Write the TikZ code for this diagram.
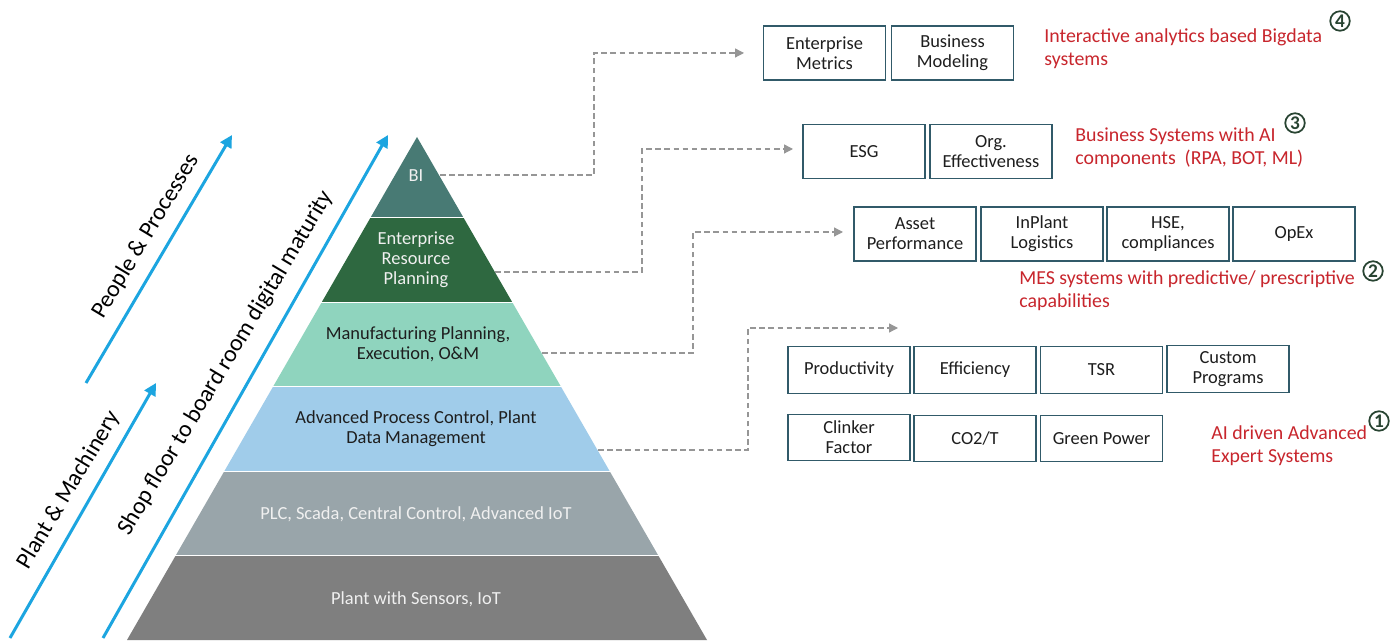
\documentclass[tikz,border=0pt]{standalone}
\usepackage{fontspec}
\setmainfont{Carlito}
\usetikzlibrary{arrows.meta}
\definecolor{cBI}{RGB}{72,122,116}
\definecolor{cERP}{RGB}{46,104,64}
\definecolor{cMES}{RGB}{143,212,190}
\definecolor{cAPC}{RGB}{160,204,234}
\definecolor{cPLC}{RGB}{153,165,170}
\definecolor{cPlant}{RGB}{127,127,127}
\definecolor{cBlue}{RGB}{28,165,224}
\definecolor{cBox}{RGB}{49,90,105}
\definecolor{cRed}{RGB}{200,38,45}
\definecolor{cConn}{RGB}{150,150,150}
\definecolor{cNum}{RGB}{40,68,50}
\definecolor{cTxt}{RGB}{30,30,30}
\definecolor{cLight}{RGB}{240,240,240}
\begin{document}
\begin{tikzpicture}[x=0.02cm,y=-0.02cm,
  layertext/.style={align=center,font=\fontsize{10.5}{11.5}\selectfont},
  darktext/.style={layertext,text=cTxt},
  lighttext/.style={layertext,text=cLight},
  itembox/.style={draw=cBox,line width=0.7pt,fill=white,align=center,text=cTxt,
    font=\fontsize{10.5}{11.5}\selectfont,minimum width=2.44cm,inner sep=0pt},
  tallbox/.style={itembox,minimum height=1.08cm},
  lowbox/.style={itembox,minimum height=0.93cm},
  redlabel/.style={anchor=west,align=left,text=cRed,inner sep=0pt,
    font=\fontsize{11.3}{13}\selectfont},
  numlabel/.style={circle,draw=cNum,line width=1pt,text=cNum,inner sep=0pt,
    minimum size=0.39cm,font=\fontsize{11}{11}\selectfont\bfseries},
  conn/.style={draw=cConn,line width=0.7pt,dash pattern=on 3.2pt off 2pt,
    -{Triangle[length=5pt,width=5pt]}},
  bluearrow/.style={draw=cBlue,line width=1.7pt,-{Triangle[length=7pt,width=7pt]}},
  sidelabel/.style={rotate=59,text=black,font=\fontsize{13.5}{15}\selectfont}]
\useasboundingbox[fill=white] (0,0) rectangle (1399,644);

% ---------- pyramid layers ----------
\def\pyr{(417,137) -- (127,640) -- (707,640) -- cycle}
\begin{scope}\clip (0,130) rectangle (1399,217);\fill[cBI] \pyr;\end{scope}
\begin{scope}\clip (0,219) rectangle (1399,302);\fill[cERP] \pyr;\end{scope}
\begin{scope}\clip (0,304) rectangle (1399,386);\fill[cMES] \pyr;\end{scope}
\begin{scope}\clip (0,388) rectangle (1399,471);\fill[cAPC] \pyr;\end{scope}
\begin{scope}\clip (0,473) rectangle (1399,555);\fill[cPLC] \pyr;\end{scope}
\begin{scope}\clip (0,557) rectangle (1399,641);\fill[cPlant] \pyr;\end{scope}

\node[lighttext] (bi) at (416,176) {BI};
\node[lighttext] (erp) at (416,260) {Enterprise\\Resource\\Planning};
\node[darktext] (mes) at (418,344) {Manufacturing Planning,\\Execution, O\&M};
\node[darktext] (apc) at (416,429) {Advanced Process Control, Plant\\Data Management};
\node[lighttext] (plc) at (416,514) {PLC, Scada, Central Control, Advanced IoT};
\node[lighttext] (plant) at (416,599) {Plant with Sensors, IoT};

% ---------- blue arrows and side labels ----------
\coordinate (a1s) at (86,383);  \coordinate (a1e) at (232,135);
\coordinate (a2s) at (10,638);  \coordinate (a2e) at (156,383);
\coordinate (a3s) at (103,638); \coordinate (a3e) at (388,135);
\draw[bluearrow] (a1s) -- (a1e);
\draw[bluearrow] (a2s) -- (a2e);
\draw[bluearrow] (a3s) -- (a3e);
\node[sidelabel] (people) at (146,236) {People \& Processes};
\node[sidelabel] (machinery) at (69,490) {Plant \& Machinery};
\node[sidelabel] (shop) at (226,363) {Shop floor to board room digital maturity};

% ---------- boxes ----------
\node[tallbox] (em) at (824.5,53) {Enterprise\\Metrics};
\node[tallbox] (bm) at (952.5,53) {Business\\Modeling};

\node[tallbox] (esg) at (864,151.5) {ESG};
\node[tallbox] (oe) at (991,151.5) {Org.\\Effectiveness};

\node[tallbox] (ap) at (915,234) {Asset\\Performance};
\node[tallbox] (il) at (1042,234) {InPlant\\Logistics};
\node[tallbox] (hse) at (1168,234) {HSE,\\compliances};
\node[tallbox] (opex) at (1294,234) {OpEx};

\node[lowbox] (prod) at (849,370) {Productivity};
\node[lowbox] (eff) at (975,370) {Efficiency};
\node[lowbox] (tsr) at (1101.5,370) {TSR};
\node[lowbox] (cp) at (1228,369) {Custom\\Programs};

\node[lowbox] (cf) at (849,437.5) {Clinker\\Factor};
\node[lowbox] (co2) at (975,438.5) {CO2/T};
\node[lowbox] (gp) at (1101.5,438.5) {Green Power};

% ---------- red labels and numbers ----------
\node[redlabel] (r4) at (1044,48.5) {Interactive analytics based Bigdata\\systems};
\node[redlabel] (r3) at (1075,147.5) {Business Systems with AI\\components\ \ (RPA, BOT, ML)};
\node[redlabel] (r2) at (1019,291) {MES systems with predictive/ prescriptive\\capabilities};
\node[redlabel] (r1) at (1211,445.5) {AI driven Advanced\\Expert Systems};

\node[numlabel] (n4) at (1340,21) {4};
\node[numlabel] (n3) at (1295,123) {3};
\node[numlabel] (n2) at (1373,271) {2};
\node[numlabel] (n1) at (1379,421) {1};

% ---------- dashed connectors ----------
\coordinate (biR) at (440,175);  \coordinate (k4) at (594,53);  \coordinate (t4) at (744,53);
\coordinate (erpR) at (495,272); \coordinate (k3) at (642,149); \coordinate (t3) at (793,149);
\coordinate (mesR) at (542,353); \coordinate (k2) at (693,232); \coordinate (t2) at (843,232);
\coordinate (apcR) at (598,450); \coordinate (k1) at (748,328); \coordinate (t1) at (898,328);
\draw[conn] (biR) -| (k4) -- (t4);
\draw[conn] (erpR) -| (k3) -- (t3);
\draw[conn] (mesR) -| (k2) -- (t2);
\draw[conn] (apcR) -| (k1) -- (t1);
\end{tikzpicture}
\end{document}
